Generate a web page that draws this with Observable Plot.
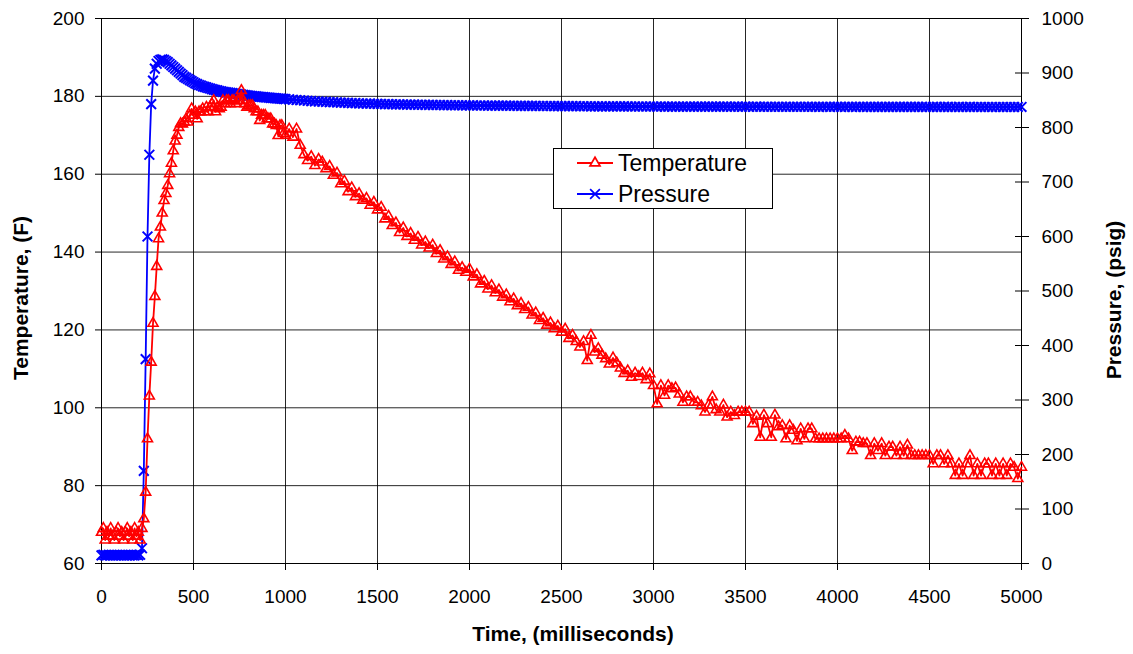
<!DOCTYPE html>
<html><head><meta charset="utf-8">
<script src="https://cdn.jsdelivr.net/npm/d3@7"></script>
<script src="https://cdn.jsdelivr.net/npm/@observablehq/plot@0.6"></script>
<style>
html,body{margin:0;padding:0;background:#fff;}
#chart{position:relative;width:1133px;height:654px;}
#warn{position:absolute;left:200px;top:300px;color:#f0f;font:20px sans-serif;}
</style></head><body><div id="chart"></div>
<script>
// sampling times (ms): 10 ms steps up to 1 s, then 20 ms steps
const sampleTimes = [...d3.range(0, 1000, 10), ...d3.range(1000, 5001, 20)];

// Temperature (F)
const temperature = [
  68, 69, 66, 68, 67, 69, 67, 66, 68, 69,
  67, 68, 66, 68, 69, 67, 68, 66, 69, 67,
  68, 66, 69, 71.5, 78.3, 92, 103, 111.7, 121.7, 128.6,
  136.3, 143.4, 146.4, 150, 153.2, 155, 157.1, 160.1, 162.8, 166,
  168.5, 170, 172, 173, 172.9, 173.4, 174.2, 173.4, 175.1, 176.8,
  175.1, 176, 174.2, 176, 176, 176.8, 176, 177.2, 176, 177.2,
  178.1, 178.9, 176, 177.2, 176.8, 177.2, 178.9, 178.1, 178.9, 178.9,
  178.1, 178.9, 178.9, 178.1, 178.9, 178.9, 181.5, 178.9, 178.1, 177.2,
  177.6, 177.6, 177.6, 176.8, 176, 176, 173.8, 175.1, 175.1, 175.1,
  174.2, 174.2, 174.2, 172.9, 172.9, 172.5, 169.9, 172.5, 172.5, 170.5,
  // 1000 ms onward, 20 ms steps
  170.0, 171.6, 169.5, 171.6, 167.4, 165.0, 163.5, 164.5, 162.2, 163.8,
  163.1, 161.4, 162.0, 159.7, 160.3, 157.5, 158.2, 155.5, 156.5, 154.2,
  155.0, 153.3, 153.8, 152.0, 152.8, 150.8, 151.5, 148.5, 149.2, 146.8,
  147.5, 145.0, 146.2, 144.0, 144.8, 143.0, 143.8, 141.8, 142.6, 141.0,
  141.8, 139.6, 140.4, 138.2, 138.8, 136.8, 137.5, 135.3, 136.0, 134.8,
  135.6, 133.6, 134.2, 131.8, 132.5, 130.5, 131.4, 129.5, 130.3, 128.4,
  129.0, 127.2, 128.0, 126.2, 126.8, 125.2, 125.8, 123.8, 124.4, 122.4,
  123.0, 121.2, 121.8, 120.3, 121.0, 119.4, 120.2, 117.8, 118.6, 117.0,
  115.6, 117.0, 112.1, 118.6, 114.3, 115.2, 113.5, 112.6, 111.2, 112.8,
  111.5, 110.2, 108.8, 109.5, 107.8, 108.9, 108.0, 108.9, 107.2, 108.7,
  105.7, 101.0, 105.7, 103.2, 105.7, 104.9, 105.1, 103.5, 101.4, 102.8,
  102.8, 101.4, 101.4, 100.5, 98.9, 100.7, 102.8, 99.5, 98.9, 100.7,
  97.6, 98.9, 98.0, 98.9, 98.9, 98.9, 98.9, 95.9, 97.8, 92.4,
  98.1, 95.9, 92.4, 98.1, 95.1, 95.4, 92.0, 95.4, 94.2, 91.5,
  94.6, 92.0, 94.6, 94.6, 92.0, 92.0, 92.0, 92.0, 92.0, 92.0,
  92.0, 92.0, 92.9, 92.0, 89.0, 91.2, 91.2, 90.8, 90.8, 87.7,
  90.8, 89.0, 90.8, 87.7, 89.9, 89.9, 87.7, 89.9, 87.7, 90.4,
  87.7, 87.7, 87.7, 87.7, 87.7, 87.7, 85.6, 87.7, 87.7, 85.6,
  87.7, 85.6, 82.6, 85.6, 82.6, 85.6, 87.7, 82.6, 85.6, 82.6,
  85.6, 85.6, 82.6, 85.6, 82.6, 85.6, 82.6, 85.6, 84.7, 81.8,
  84.7
];

// Pressure (psig)
const pressure = [
  15, 16, 15, 15, 16, 15, 15, 16, 15, 15,
  16, 15, 15, 16, 15, 15, 16, 15, 15, 16,
  15, 16, 28, 170, 375, 600, 750, 843, 886, 908,
  917, 922, 924, 925, 924, 922, 920, 917, 914, 911,
  908, 905, 902, 899, 896, 893, 891, 889, 887, 885,
  883, 881, 879.5, 878, 877, 875.5, 874.5, 873.5, 872.5, 871.5,
  870.5, 869.5, 868.5, 868, 867, 866.5, 865.5, 865, 864.5, 864,
  863.5, 863, 862.5, 862, 861.5, 861, 860.5, 860, 859.5, 859,
  858.5, 858, 857.7, 857.4, 857, 856.7, 856.4, 856, 855.7, 855.4,
  855, 854.7, 854.4, 854.1, 853.8, 853.5, 853.2, 853, 852.7, 852.4,
  // 1000 ms onward, 20 ms steps
  852, 851.5, 851, 850.5, 850, 849.5, 849, 848.5, 848, 847.7,
  847.3, 847, 846.6, 846.3, 846, 845.7, 845.4, 845.1, 844.8, 844.6,
  844.3, 844.1, 843.9, 843.7, 843.5, 843.3, 843.1, 843, 842.8, 842.7,
  842.5, 842.4, 842.2, 842.1, 842, 841.9, 841.8, 841.7, 841.6, 841.5,
  841.4, 841.3, 841.2, 841.1, 841, 840.9, 840.9, 840.8, 840.7, 840.6,
  840.5, 840.5, 840.4, 840.4, 840.3, 840.2, 840.2, 840.1, 840.1, 840,
  840, 839.9, 839.9, 839.8, 839.8, 839.7, 839.7, 839.6, 839.6, 839.5,
  839.5, 839.4, 839.4, 839.3, 839.3, 839.2, 839.2, 839.1, 839.1, 839.1,
  839, 839, 839, 838.9, 838.9, 838.9, 838.8, 838.8, 838.8, 838.8,
  838.7, 838.7, 838.7, 838.7, 838.6, 838.6, 838.6, 838.6, 838.5, 838.5,
  838.5, 838.4, 838.5, 838.4, 838.4, 838.3, 838.4, 838.3, 838.3, 838.4,
  838.3, 838.3, 838.2, 838.3, 838.3, 838.2, 838.2, 838.3, 838.2, 838.2,
  838.2, 838.1, 838.2, 838.2, 838.1, 838.2, 838.1, 838.1, 838.2, 838.1,
  838.1, 838.1, 838, 838.1, 838.1, 838, 838.1, 838, 838, 838.1,
  838, 838, 838.1, 838, 838, 837.9, 838, 838, 837.9, 838,
  838, 837.9, 837.9, 838, 837.9, 837.9, 838, 837.9, 837.9, 837.9,
  837.9, 837.8, 837.9, 837.9, 837.8, 837.9, 837.8, 837.8, 837.9, 837.8,
  837.8, 837.8, 837.9, 837.8, 837.8, 837.7, 837.8, 837.8, 837.7, 837.8,
  837.8, 837.7, 837.7, 837.8, 837.7, 837.7, 837.8, 837.7, 837.7, 837.7,
  837.7, 837.7, 837.6, 837.7, 837.7, 837.6, 837.7, 837.7, 837.6, 837.7,
  837.7
];

const timeTicks = [0, 500, 1000, 1500, 2000, 2500, 3000, 3500, 4000, 4500, 5000];
const tempTicks = [60, 80, 100, 120, 140, 160, 180, 200];
const pressureTicks = [0, 100, 200, 300, 400, 500, 600, 700, 800, 900, 1000];
const seriesNames = ["Temperature", "Pressure"];
const seriesColors = ["#ff0000", "#0000ff"];
const xTitle = "Time, (milliseconds)";
const yTitle = "Temperature, (F)";
const y2Title = "Pressure, (psig)";

const tMin = 60, tMax = 200, pMax = 1000;
const toT = p => tMin + p * (tMax - tMin) / pMax;
const toP = t => Math.round((t - tMin) * pMax / (tMax - tMin));

const rows = sampleTimes.map((t, i) => ({t, temp: temperature[i], pres: pressure[i]}));

const font = "Arial, 'Liberation Sans', sans-serif";
const tickFont = 19;
const triR = 3.7, timesR = 4.5;

const chart = Plot.plot({
  width: 1133, height: 654,
  marginLeft: 101, marginRight: 112, marginTop: 18, marginBottom: 91,
  style: {fontFamily: font, fontSize: tickFont + "px", background: "#fff", color: "#000", overflow: "visible"},
  x: {domain: [0, 5000]},
  y: {domain: [tMin, tMax]},
  marks: [
    Plot.gridX({ticks: timeTicks, stroke: "#000", strokeOpacity: 0.85}),
    Plot.gridY({ticks: tempTicks, stroke: "#000", strokeOpacity: 0.85}),
    Plot.frame({stroke: "#000"}),
    Plot.axisX({ticks: timeTicks, tickFormat: d => String(d), tickSize: 7, tickPadding: 19, fontSize: tickFont, label: null}),
    Plot.axisY({anchor: "left", ticks: tempTicks, tickFormat: d => String(d), tickSize: 6, tickPadding: 11, fontSize: tickFont, label: null}),
    Plot.axisY({anchor: "right", ticks: pressureTicks.map(toT), tickFormat: d => String(toP(d)), tickSize: 14, dx: -7, tickPadding: 13, fontSize: tickFont, label: null}),
    Plot.line(rows, {x: "t", y: d => toT(d.pres), stroke: seriesColors[1], strokeWidth: 1.8}),
    Plot.dot(rows, {x: "t", y: d => toT(d.pres), symbol: "times", r: timesR, stroke: seriesColors[1], strokeWidth: 2}),
    Plot.line(rows, {x: "t", y: "temp", stroke: seriesColors[0], strokeWidth: 1.8}),
    Plot.dot(rows, {x: "t", y: "temp", symbol: "triangle", r: triR, stroke: seriesColors[0], fill: "none", strokeWidth: 1.6})
  ]
});
document.getElementById("chart").appendChild(chart);

const svg = d3.select(chart);
// axis titles
svg.append("text").attr("x", 573).attr("y", 641).attr("text-anchor", "middle")
  .attr("font-family", font).attr("font-size", 21).attr("font-weight", "bold").attr("fill", "#000").text(xTitle);
svg.append("text").attr("transform", "translate(28,298) rotate(-90)").attr("text-anchor", "middle")
  .attr("font-family", font).attr("font-size", 21).attr("font-weight", "bold").attr("fill", "#000").text(yTitle);
svg.append("text").attr("transform", "translate(1121,300) rotate(-90)").attr("text-anchor", "middle")
  .attr("font-family", font).attr("font-size", 21).attr("font-weight", "bold").attr("fill", "#000").text(y2Title);

// legend
const lg = svg.append("g");
lg.append("rect").attr("x", 553.5).attr("y", 148.5).attr("width", 219).attr("height", 60)
  .attr("fill", "#fff").attr("stroke", "#000").attr("stroke-width", 1);
const symbols = [d3.symbolTriangle, d3.symbolTimes];
const symSize = [Math.PI * triR * triR, Math.PI * timesR * timesR];
const rowY = [163, 194];
const textY = [171, 202];
seriesNames.forEach((name, i) => {
  lg.append("line").attr("x1", 577).attr("x2", 613).attr("y1", rowY[i]).attr("y2", rowY[i])
    .attr("stroke", seriesColors[i]).attr("stroke-width", 1.8);
  lg.append("path").attr("d", d3.symbol(symbols[i], symSize[i])())
    .attr("transform", `translate(595,${rowY[i]})`)
    .attr("fill", i === 0 ? "#fff" : "none").attr("stroke", seriesColors[i]).attr("stroke-width", 1.7);
  lg.append("text").attr("x", 618).attr("y", textY[i]).attr("text-anchor", "start")
    .attr("font-family", font).attr("font-size", 23).attr("fill", "#000").text(name);
});

if (temperature.length !== sampleTimes.length || pressure.length !== sampleTimes.length) {
  const w = document.createElement("div"); w.id = "warn";
  w.textContent = `length mismatch ${sampleTimes.length} ${temperature.length} ${pressure.length}`;
  document.getElementById("chart").appendChild(w);
}
</script></body></html>
